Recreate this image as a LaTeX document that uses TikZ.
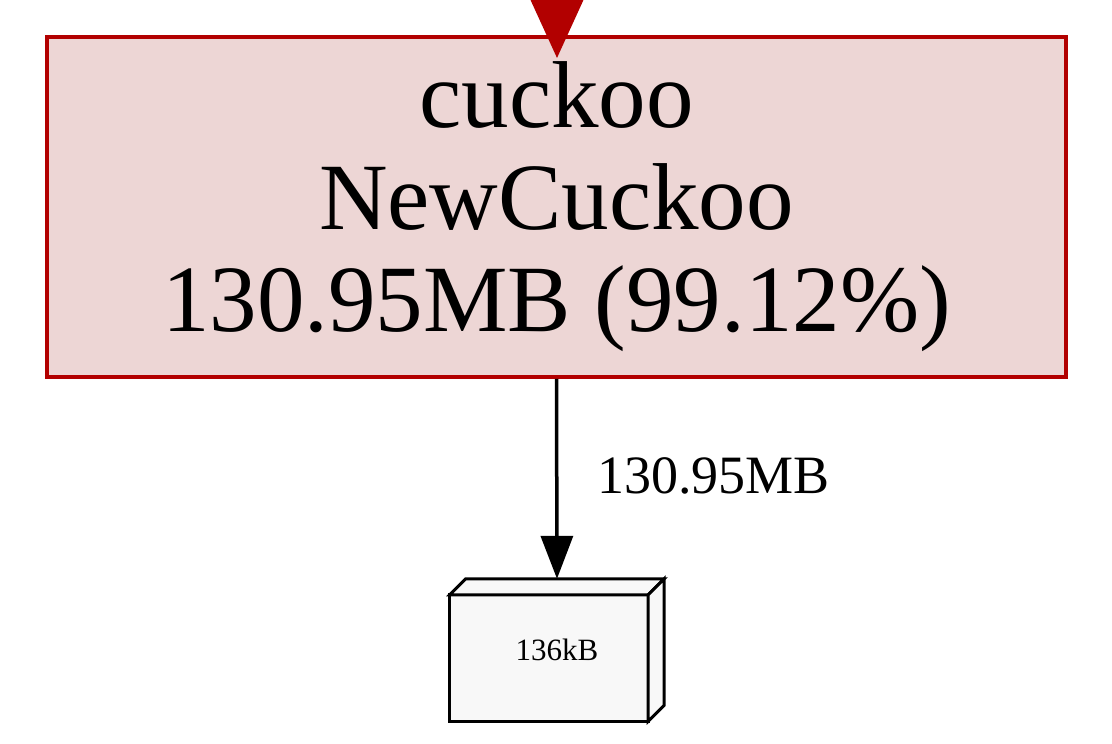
\documentclass[tikz,border=0pt]{standalone}
\usepackage{fontspec}
\setmainfont{Liberation Serif}
\usetikzlibrary{arrows.meta,calc}
\definecolor{hotred}{HTML}{B20000}
\definecolor{hotfill}{HTML}{EDD6D5}
\definecolor{leaffill}{HTML}{F8F8F8}
\tikzset{
  mainbox/.style={draw=hotred, fill=hotfill, line width=3.5pt, minimum width=1019pt, minimum height=340pt, inner sep=0pt, align=center, font=\fontsize{95}{102}\selectfont},
  leafbox/.style={minimum width=214pt, minimum height=142pt, inner sep=0pt, font=\fontsize{31}{34}\selectfont},
  leafface/.style={fill=leaffill, line width=3pt, line join=miter},
  edgeline/.style={line width=3.5pt, -{Triangle[length=43pt,width=32pt]}},
  edgelabel/.style={font=\fontsize{54}{58}\selectfont, inner sep=0pt},
}
\begin{document}
\begin{tikzpicture}[x=1pt,y=-1pt]
\useasboundingbox (0,0) rectangle (1112,744);
\clip (0,0) rectangle (1112,744);
\node[mainbox] (main) at (556.5,207) {cuckoo\\NewCuckoo\\130.95MB (99.12\%)};
\coordinate (src) at (557,-80);
\coordinate (intip) at (557,58);
\draw[hotred, line width=3.5pt, -{Triangle[length=70pt,width=63pt]}] (src) -- (intip);
\node[leafbox] (leaf) at (557,650) {};
\coordinate (ftl) at ($(leaf.north west)+(0,16)$);
\coordinate (ftr) at ($(leaf.north east)+(-16,16)$);
\coordinate (btr) at (leaf.north east);
\coordinate (btl) at ($(leaf.north west)+(16,0)$);
\coordinate (bbr) at ($(leaf.south east)+(0,-16)$);
\coordinate (fbr) at ($(leaf.south east)+(-16,0)$);
\coordinate (fbl) at (leaf.south west);
\filldraw[leafface] (fbl) -- (ftl) -- (ftr) -- (fbr) -- cycle;
\filldraw[leafface] (ftl) -- (btl) -- (btr) -- (ftr) -- cycle;
\filldraw[leafface] (ftr) -- (btr) -- (bbr) -- (fbr) -- cycle;
\node[leafbox] at (leaf) {136kB};
\draw[edgeline] (main.south) -- (leaf.north);
\node[edgelabel, anchor=base west] (lab) at (597,493) {130.95MB};
\end{tikzpicture}
\end{document}
